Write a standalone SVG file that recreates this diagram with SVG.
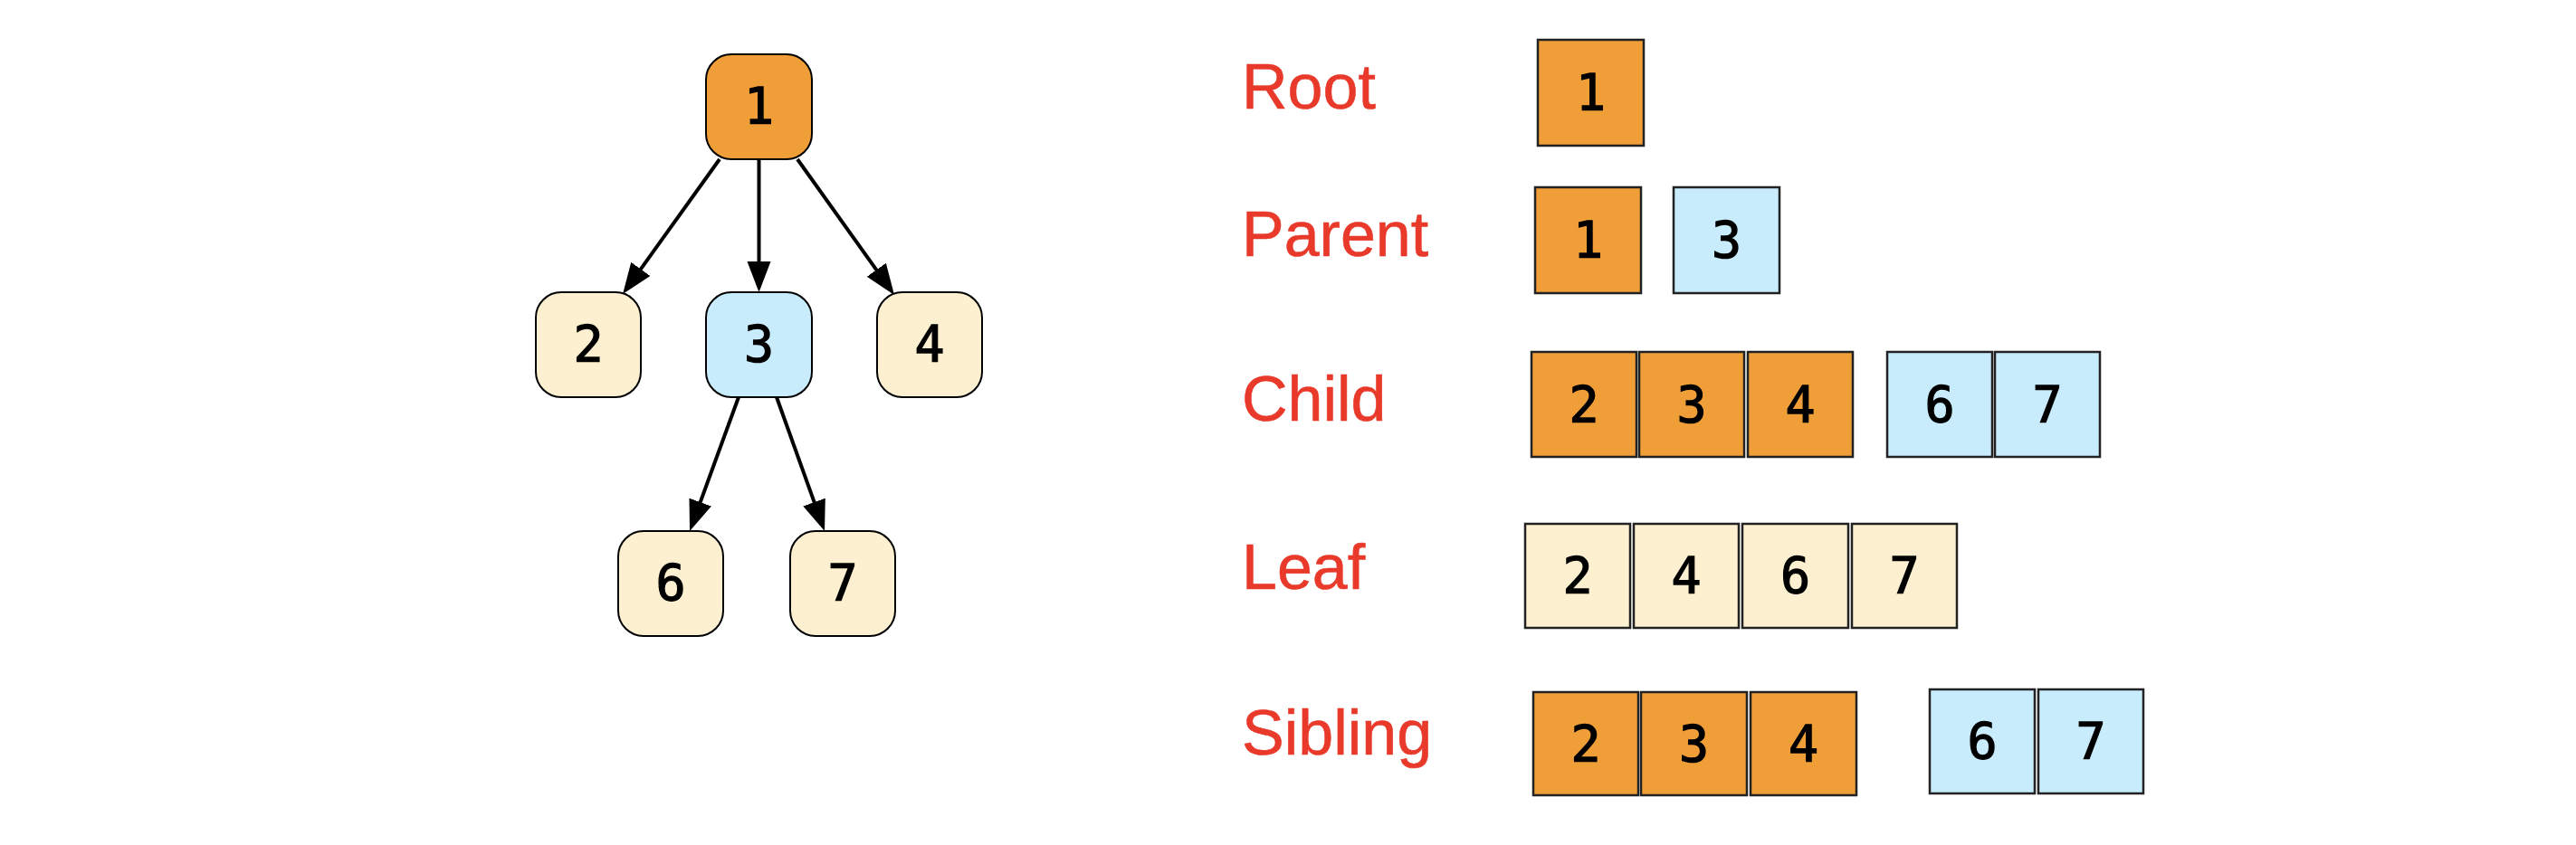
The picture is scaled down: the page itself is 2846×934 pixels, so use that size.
<svg xmlns="http://www.w3.org/2000/svg" width="2846" height="934" viewBox="0 0 2846 934">
<defs>
<style>
.node rect{stroke:#000;stroke-width:2}
.box{stroke:#222;stroke-width:2.5}
.or{fill:#F09E38}
.bl{fill:#C8ECFB}
.cr{fill:#FCF0D1}
.d{font-family:"DejaVu Sans Mono",monospace;font-size:55px;fill:#000;stroke:#000;stroke-width:1.3;text-anchor:middle}
.lab{font-family:"Liberation Sans",Arial,sans-serif;font-size:70px;fill:#E8392A;stroke:#E8392A;stroke-width:0.6}
.conn line{stroke:#000;stroke-width:4;marker-end:url(#ah)}
</style>
<marker id="ah" markerUnits="userSpaceOnUse" markerWidth="36" markerHeight="28" refX="14" refY="13" orient="auto" viewBox="0 0 36 28">
<path d="M0,0 L34,13 L0,26 z" fill="#000"/>
</marker>
</defs>
<rect width="2846" height="934" fill="#fff"/>

<g id="connectors" class="conn">
<line x1="795" y1="176" x2="699.7" y2="308.8"/>
<line x1="838.5" y1="176" x2="838.5" y2="303"/>
<line x1="881" y1="176" x2="976.4" y2="309.7"/>
<line x1="816" y1="439" x2="768.9" y2="568.2"/>
<line x1="858" y1="439" x2="904.3" y2="568.2"/>
</g>

<g id="node1" class="node"><rect class="or" x="780" y="60" width="117" height="116" rx="28"/><text class="d" x="838.5" y="136">1</text></g>
<g id="node2" class="node"><rect class="cr" x="592" y="323" width="116" height="116" rx="28"/><text class="d" x="650" y="399">2</text></g>
<g id="node3" class="node"><rect class="bl" x="780" y="323" width="117" height="116" rx="28"/><text class="d" x="838.5" y="399">3</text></g>
<g id="node4" class="node"><rect class="cr" x="969" y="323" width="116" height="116" rx="28"/><text class="d" x="1027" y="399">4</text></g>
<g id="node6" class="node"><rect class="cr" x="683" y="587" width="116" height="116" rx="28"/><text class="d" x="741" y="663">6</text></g>
<g id="node7" class="node"><rect class="cr" x="873" y="587" width="116" height="116" rx="28"/><text class="d" x="931" y="663">7</text></g>

<g id="row-root">
<text class="lab" x="1372" y="120">Root</text>
<rect class="box or" x="1699" y="44" width="117" height="117"/><text class="d" x="1757.5" y="121">1</text>
</g>
<g id="row-parent">
<text class="lab" x="1372" y="283">Parent</text>
<rect class="box or" x="1696" y="207" width="117" height="117"/><text class="d" x="1754.5" y="284">1</text>
<rect class="box bl" x="1849" y="207" width="117" height="117"/><text class="d" x="1907.5" y="284">3</text>
</g>
<g id="row-child">
<text class="lab" x="1372" y="465">Child</text>
<rect class="box or" x="1692" y="389" width="116" height="116"/><text class="d" x="1750" y="466">2</text>
<rect class="box or" x="1811" y="389" width="116" height="116"/><text class="d" x="1869" y="466">3</text>
<rect class="box or" x="1931" y="389" width="116" height="116"/><text class="d" x="1989" y="466">4</text>
<rect class="box bl" x="2085" y="389" width="116" height="116"/><text class="d" x="2143" y="466">6</text>
<rect class="box bl" x="2204" y="389" width="116" height="116"/><text class="d" x="2262" y="466">7</text>
</g>
<g id="row-leaf">
<text class="lab" x="1372" y="651">Leaf</text>
<rect class="box cr" x="1685" y="579" width="116" height="115"/><text class="d" x="1743" y="655">2</text>
<rect class="box cr" x="1805" y="579" width="116" height="115"/><text class="d" x="1863" y="655">4</text>
<rect class="box cr" x="1925" y="579" width="117" height="115"/><text class="d" x="1983.5" y="655">6</text>
<rect class="box cr" x="2046" y="579" width="116" height="115"/><text class="d" x="2104" y="655">7</text>
</g>
<g id="row-sibling">
<text class="lab" x="1372" y="834">Sibling</text>
<rect class="box or" x="1694" y="765" width="116" height="114"/><text class="d" x="1752" y="841">2</text>
<rect class="box or" x="1813" y="765" width="117" height="114"/><text class="d" x="1871.5" y="841">3</text>
<rect class="box or" x="1934" y="765" width="117" height="114"/><text class="d" x="1992.5" y="841">4</text>
<rect class="box bl" x="2132" y="762" width="116" height="115"/><text class="d" x="2190" y="838">6</text>
<rect class="box bl" x="2252" y="762" width="116" height="115"/><text class="d" x="2310" y="838">7</text>
</g>
</svg>
